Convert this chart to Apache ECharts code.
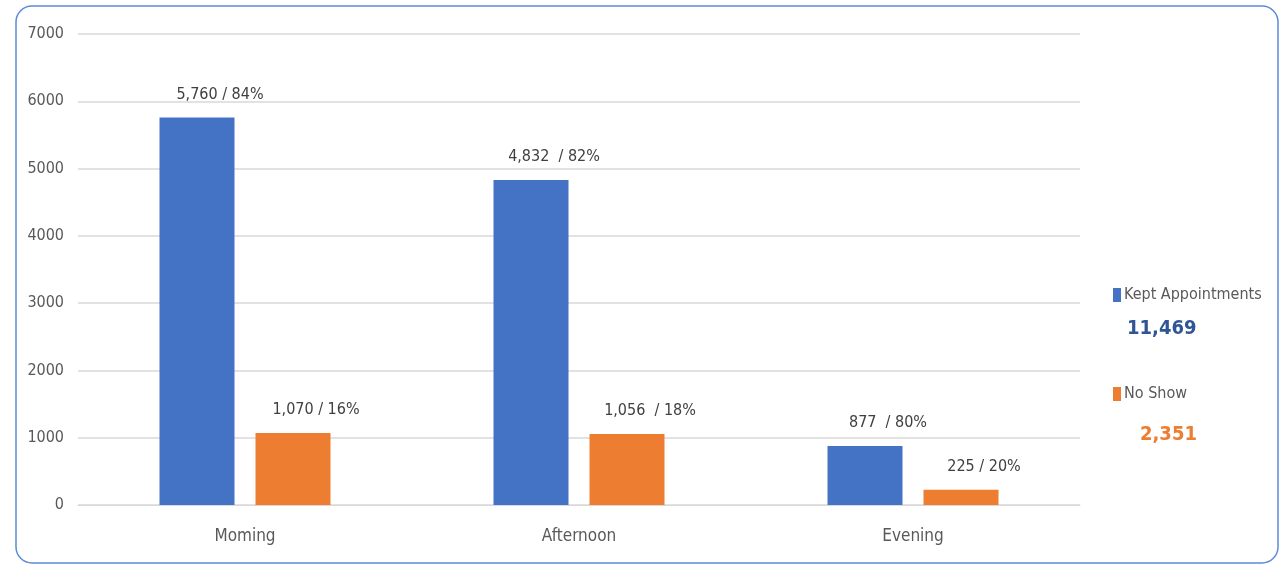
<!DOCTYPE html>
<html>
<head>
<meta charset="utf-8">
<script src="https://cdn.jsdelivr.net/npm/echarts@6/dist/echarts.min.js"></script>
<style>
html,body{margin:0;padding:0;background:#fff;}
#chart{width:1281px;height:566px;}
</style>
</head>
<body>
<div id="chart"></div>
<script>
const categories = ['Morning', 'Afternoon', 'Evening'];
const categoryLabels = ['Moming', 'Afternoon', 'Evening'];
const seriesNames = ['Kept Appointments', 'No Show'];
const kept = [5760, 4832, 877];
const noShow = [1070, 1056, 225];
const keptLabels = ['5,760 / 84%', '4,832  / 82%', '877  / 80%'];
const noShowLabels = ['1,070 / 16%', '1,056  / 18%', '225 / 20%'];
const yTicks = [0, 1000, 2000, 3000, 4000, 5000, 6000, 7000];

const FONT = "'DejaVu Sans Condensed', 'Liberation Sans Narrow', sans-serif";
const BLUE = '#4472C4';
const ORANGE = '#ED7D31';

const sum = a => a.reduce((s, v) => s + v, 0);
const fmt = v => v.toLocaleString('en-US');

const chart = echarts.init(document.getElementById('chart'));
chart.setOption({
  animation: false,
  backgroundColor: '#fff',
  textStyle: { fontFamily: FONT },
  grid: { left: 78, right: 201, top: 34, bottom: 61, containLabel: false },
  legend: {
    orient: 'vertical',
    left: 1108,
    top: 282,
    itemWidth: 8,
    itemHeight: 14,
    itemGap: 83,
    icon: 'rect',
    data: seriesNames,
    textStyle: { fontFamily: FONT, fontSize: 16, color: '#595959', padding: [0, 0, 0, -2] }
  },
  xAxis: {
    type: 'category',
    data: categoryLabels,
    axisLine: { show: true, lineStyle: { color: '#D9D9D9', width: 1 } },
    axisTick: { show: false },
    axisLabel: { color: '#595959', fontSize: 17, fontFamily: FONT, margin: 23 }
  },
  yAxis: {
    type: 'value',
    min: yTicks[0],
    max: yTicks[yTicks.length - 1],
    interval: 1000,
    axisLine: { show: false },
    axisTick: { show: false },
    splitLine: { lineStyle: { color: '#D9D9D9', width: 1.5 } },
    axisLabel: { color: '#595959', fontSize: 16, fontFamily: FONT, margin: 14, formatter: v => String(v) }
  },
  series: [
    {
      name: seriesNames[0],
      type: 'bar',
      data: kept,
      barWidth: 75,
      barGap: '28%',
      itemStyle: { color: BLUE },
      label: {
        show: true,
        position: 'top',
        distance: 15,
        offset: [23, 0],
        color: '#404040',
        fontSize: 16,
        fontFamily: FONT,
        formatter: p => keptLabels[p.dataIndex]
      }
    },
    {
      name: seriesNames[1],
      type: 'bar',
      data: noShow,
      barWidth: 75,
      barGap: '28%',
      itemStyle: { color: ORANGE },
      label: {
        show: true,
        position: 'top',
        distance: 15,
        offset: [23, 0],
        color: '#404040',
        fontSize: 16,
        fontFamily: FONT,
        formatter: p => noShowLabels[p.dataIndex]
      }
    }
  ],
  graphic: [
    {
      type: 'rect',
      silent: true,
      shape: { x: 16, y: 6, width: 1262, height: 557, r: 16 },
      style: { fill: 'none', stroke: '#5B8BD9', lineWidth: 1.5 }
    },
    {
      type: 'text',
      left: 1127,
      top: 319,
      style: { text: fmt(sum(kept)), fill: '#2F5597', font: "bold 20px " + FONT }
    },
    {
      type: 'text',
      left: 1140,
      top: 425,
      style: { text: fmt(sum(noShow)), fill: ORANGE, font: "bold 20px " + FONT }
    }
  ]
});
</script>
</body>
</html>
